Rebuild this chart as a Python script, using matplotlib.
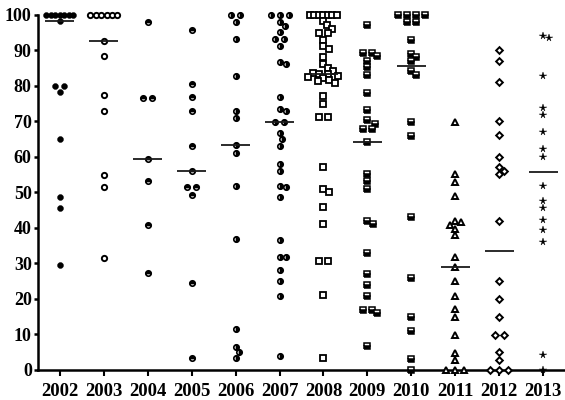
import numpy as np
import matplotlib
matplotlib.use('Agg')
import matplotlib.pyplot as plt

years = ['2002', '2003', '2004', '2005', '2006', '2007',
         '2008', '2009', '2010', '2011', '2012', '2013']

v2002 = [100, 100, 100, 100, 100, 100, 100, 98.2, 80.0, 80.0, 78.2, 65.0, 48.8, 45.5, 29.5]
v2003 = [100, 100, 100, 100, 100, 100, 92.6, 88.3, 77.3, 72.9, 54.9, 51.5, 31.6]
v2004 = [97.8, 76.5, 76.5, 59.3, 53.2, 40.8, 27.3]
v2005 = [95.6, 80.4, 76.7, 72.9, 63.0, 56.1, 51.6, 51.6, 49.2, 24.6, 3.3]
v2006 = [100, 100, 98.0, 93.1, 82.8, 72.9, 70.8, 63.3, 61.0, 51.8, 36.8, 11.6, 6.6, 5.2, 3.3]
v2007 = [100, 100, 100, 98.0, 96.9, 95.0, 93.1, 93.1, 91.0, 86.6, 86.0, 76.9, 73.3, 72.9,
         69.8, 69.8, 66.6, 65.0, 63.0, 57.9, 56.0, 51.8, 51.6, 48.8, 36.6, 31.9, 31.7, 28.2,
         24.9, 20.9, 3.9]
v2008 = [100, 100, 100, 100, 100, 100, 100, 98.3, 97.0, 96.0, 94.8, 94.8, 92.9, 91.2, 90.3,
         88.1, 86.0, 85.0, 84.0, 83.6, 83.3, 83.3, 82.8, 82.4, 82.0, 81.6, 81.2, 80.8,
         77.0, 74.9, 71.3, 71.3, 57.0, 51.0, 50.2, 45.9, 41.0, 30.8, 30.8, 21.0, 3.3]
v2009 = [97.0, 89.1, 89.1, 88.2, 87.0, 85.2, 83.0, 77.9, 73.1, 70.2, 69.2, 67.8, 67.8, 64.1,
         55.1, 53.2, 50.9, 41.2, 41.8, 32.8, 27.0, 23.9, 20.9, 16.9, 16.9, 15.9, 6.8]
v2010 = [100, 100, 100, 100, 98.0, 98.0, 92.8, 89.0, 88.0, 86.9, 84.0, 83.0, 69.9, 65.9,
         43.0, 25.8, 15.0, 11.0, 3.0, 0]
v2011 = [69.9, 55.0, 52.9, 48.9, 41.9, 41.7, 40.8, 39.7, 38.0, 31.9, 29.1, 25.0, 20.9,
         17.1, 15.0, 9.8, 4.9, 2.8, 0, 0, 0]
v2012 = [90.0, 87.0, 81.0, 70.0, 66.0, 60.0, 57.1, 56.1, 55.0, 42.0, 25.0, 20.1, 15.0,
         9.8, 9.8, 5.0, 2.8, 0, 0, 0]
v2013 = [94.0, 93.5, 82.7, 73.7, 71.7, 67.0, 62.1, 59.8, 51.8, 47.5, 45.5, 42.1, 39.3,
         36.0, 4.2, 0]

values = [v2002, v2003, v2004, v2005, v2006, v2007,
          v2008, v2009, v2010, v2011, v2012, v2013]

# marker style for every year column
half = dict(mfc='black', mfcalt='white', mec='black')
styles = [
    dict(marker='o', ms=4.3, mfc='black', mec='black', mew=0.3),
    dict(marker='o', ms=3.8, mfc='white', mec='black', mew=1.4),
    dict(marker='o', ms=3.9, fillstyle='top', mew=1.2, **half),
    dict(marker='o', ms=3.9, fillstyle='top', mew=1.2, **half),
    dict(marker='o', ms=3.9, fillstyle='right', mew=1.2, **half),
    dict(marker='o', ms=3.9, fillstyle='right', mew=1.2, **half),
    dict(marker='s', ms=4.0, mfc='white', mec='black', mew=1.3),
    dict(marker='s', ms=3.8, fillstyle='bottom', mew=1.1, **half),
    dict(marker='s', ms=3.8, fillstyle='bottom', mew=1.1, **half),
    dict(marker='^', ms=4.4, mfc='white', mec='black', mew=1.4),
    dict(marker='D', ms=3.4, mfc='white', mec='black', mew=1.4),
    dict(marker='*', ms=5.6, mfc='black', mec='black', mew=0.3),
]


def swarm_offsets(ax, xc, vals, d=6.0, gap=9.0, row_max=27.0, step=0.5):
    """Column scatter in pixels: equal values sit in a centred row,
    the rest are nudged sideways until they stop overlapping."""
    vals = np.asarray(vals, dtype=float)
    pts = ax.transData.transform(np.column_stack([np.full(len(vals), xc), vals]))
    offs = np.zeros(len(vals))
    placed = []
    done = np.zeros(len(vals), dtype=bool)
    # rows of tied values
    uniq, counts = np.unique(vals, return_counts=True)
    for u, c in zip(uniq, counts):
        if c < 2:
            continue
        idx = np.where(vals == u)[0]
        g = min(gap, row_max / (c - 1))
        for j, i in enumerate(idx):
            offs[i] = (j - (c - 1) / 2) * g
            placed.append((offs[i], pts[i, 1]))
            done[i] = True
    # single values, top to bottom
    for i in np.argsort(-vals, kind='stable'):
        if done[i]:
            continue
        y = pts[i, 1]
        k = 0
        while True:
            n = (k + 1) // 2
            dx = n * step * (1 if k % 2 else -1) if k else 0.0
            if all((dx - px) ** 2 + (y - py) ** 2 >= d * d for px, py in placed):
                break
            k += 1
        placed.append((dx, y))
        offs[i] = dx
    # pixels -> data units along x
    x0 = ax.transData.transform((0, 0))[0]
    x1 = ax.transData.transform((1, 0))[0]
    return offs / (x1 - x0)


fig = plt.figure(figsize=(5.65, 4.0), dpi=100)
ax = fig.add_axes([38 / 565, 30 / 400, 527 / 565, 355.5 / 400])
ax.set_xlim(-0.5, 11.5)
ax.set_ylim(0, 100)

for i, (vals, st) in enumerate(zip(values, styles)):
    xs = i + swarm_offsets(ax, i, vals)
    ax.plot(xs, vals, ls='none', clip_on=False, zorder=4, **st)
    med = np.median(vals)
    ax.hlines(med, i - 0.33, i + 0.33, color='#1a1a1a', lw=1.3, zorder=5)

for side in ['top', 'right']:
    ax.spines[side].set_visible(False)
for side in ['left', 'bottom']:
    ax.spines[side].set_linewidth(1.8)
    ax.spines[side].set_zorder(3)

ax.set_xticks(range(len(years)))
ax.set_xticklabels(years, fontfamily='Liberation Serif', fontweight='bold', fontsize=13.5)
ax.set_yticks(np.arange(0, 101, 10))
ax.set_yticklabels([str(t) for t in range(0, 101, 10)],
                   fontfamily='Liberation Serif', fontweight='bold', fontsize=13)
ax.tick_params(axis='y', direction='out', length=3, width=1.8, pad=1.5)
ax.tick_params(axis='x', direction='out', length=4, width=1.5, pad=5)

fig.savefig('out.png', dpi=100)
